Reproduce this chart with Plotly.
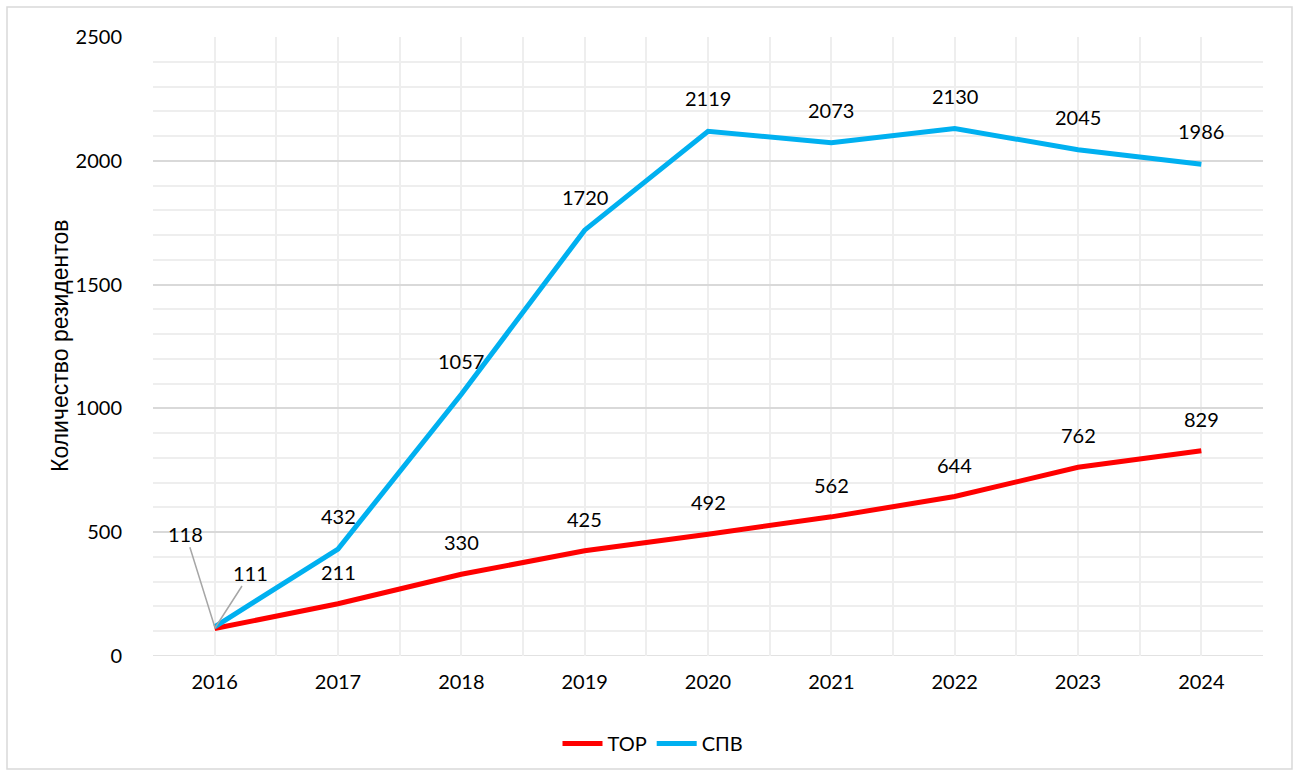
import plotly.graph_objects as go

years = ["2016", "2017", "2018", "2019", "2020", "2021", "2022", "2023", "2024"]
tor = [111, 211, 330, 425, 492, 562, 644, 762, 829]
spv = [118, 432, 1057, 1720, 2119, 2073, 2130, 2045, 1986]
y_ticks = [0, 500, 1000, 1500, 2000, 2500]

FONT = "Lato"
x = list(range(len(years)))

fig = go.Figure()
fig.add_trace(go.Scatter(x=x, y=tor, mode="lines", name="ТОР",
                         line=dict(color="#FF0000", width=5)))
fig.add_trace(go.Scatter(x=x, y=spv, mode="lines", name="СПВ",
                         line=dict(color="#00B0F0", width=5)))

ann = []
for i, v in enumerate(tor):
    if i == 0:
        continue
    ann.append(dict(x=x[i], y=v, text=str(v), showarrow=False, yshift=32,
                    font=dict(family=FONT, size=20, color="#000")))
for i, v in enumerate(spv):
    if i == 0:
        continue
    ann.append(dict(x=x[i], y=v, text=str(v), showarrow=False, yshift=33,
                    font=dict(family=FONT, size=20, color="#000")))
# leader-line labels at 2016
ann.append(dict(x=x[0], y=spv[0], text=str(spv[0]), showarrow=True, arrowhead=0,
                arrowwidth=1.5, arrowcolor="#A6A6A6", ax=-29, ay=-93, standoff=0,
                font=dict(family=FONT, size=20, color="#000")))
ann.append(dict(x=x[0], y=tor[0], text=str(tor[0]), showarrow=True, arrowhead=0,
                arrowwidth=1.5, arrowcolor="#A6A6A6", ax=36, ay=-56, standoff=0,
                font=dict(family=FONT, size=20, color="#000")))

L, R, T, B = 153, 36, 37, 119
W, H = 1299, 775
pw, ph = W - L - R, H - T - B
shapes = [dict(type="rect", xref="paper", yref="paper",
               x0=(7 - L) / pw, x1=(1292 - L) / pw,
               y0=(H - B - 769) / ph, y1=(H - B - 7) / ph,
               line=dict(color="#D9D9D9", width=1.5), fillcolor="rgba(0,0,0,0)",
               layer="below")]

fig.update_layout(
    width=W, height=H,
    margin=dict(l=L, r=R, t=T, b=B),
    paper_bgcolor="white", plot_bgcolor="white",
    font=dict(family=FONT, size=20, color="#000"),
    showlegend=True,
    legend=dict(orientation="h", x=(653 - L) / pw, xanchor="center", y=-0.11, yanchor="top",
                font=dict(family=FONT, size=20, color="#000"), itemwidth=40),
    annotations=ann,
    shapes=shapes,
    xaxis=dict(range=[-0.5, 8.5], tickvals=x, ticktext=years, showgrid=True,
               gridcolor="#EEEEEE", gridwidth=1.5, zeroline=False, showline=False,
               ticks="", ticklabelstandoff=12,
               minor=dict(dtick=0.5, tick0=-0.5, showgrid=True, gridcolor="#EEEEEE", gridwidth=1.5),
               tickfont=dict(family=FONT, size=20, color="#000")),
    yaxis=dict(range=[0, 2500], tickvals=y_ticks, showgrid=True, gridcolor="#D9D9D9",
               gridwidth=1.5, zeroline=False, showline=False, ticks="",
               ticklabelstandoff=30,
               minor=dict(dtick=100, tick0=0, showgrid=True, gridcolor="#EEEEEE", gridwidth=1.5),
               tickfont=dict(family=FONT, size=20, color="#000")),
)
fig.add_hline(y=0, line=dict(color="#D9D9D9", width=1.5), layer="below")
# rotated y-axis title positioned like the reference
fig.add_annotation(xref="paper", yref="paper", x=(60 - L) / pw, y=(H - B - 346) / ph,
                   text="Количество резидентов", textangle=-90, showarrow=False,
                   xanchor="center", yanchor="middle",
                   font=dict(family="Liberation Sans", size=23, color="#000"))

fig.write_html("out.html", config={"displayModeBar": False},
               post_script="document.body.style.margin='0px';")
